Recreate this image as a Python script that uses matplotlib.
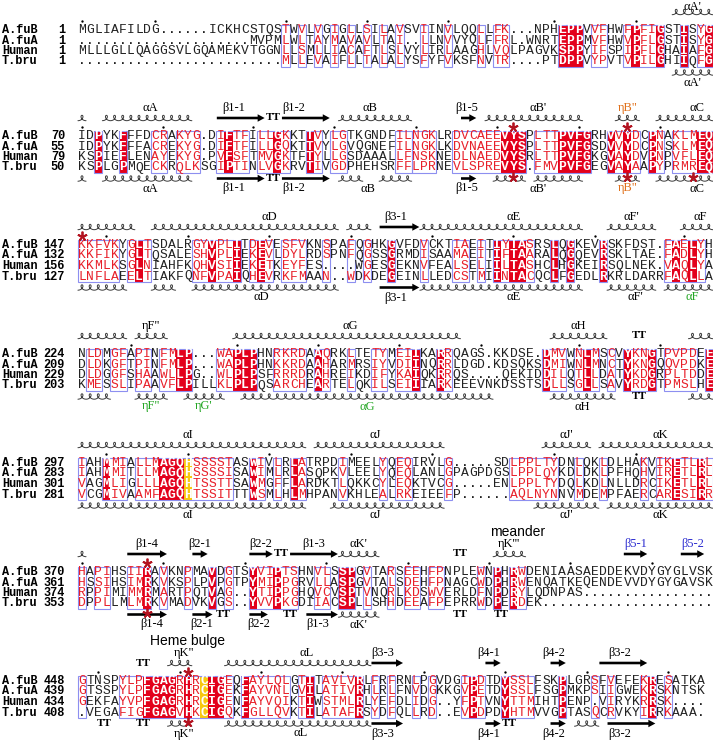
import numpy as np
import matplotlib.pyplot as plt
from matplotlib.patches import Rectangle, FancyArrow

# ---- alignment data -------------------------------------------------------
names = ["A.fuB", "A.fuA", "Human", "T.bru"]

start_numbers = [
    [1, 1, 1, 1],
    [70, 55, 79, 50],
    [147, 132, 156, 127],
    [224, 209, 229, 203],
    [297, 283, 301, 281],
    [370, 361, 374, 353],
    [448, 439, 434, 408],
]

afub = [
    "MGLIAFILDG......ICKHCSTQSTWVLVGIGLLSILAVSVIINVLQQLLFK...NPHEPPVVFHWFPFIGSTISYG",
    "IDPYKFFFDCRAKYG.DIFTFILLGKKTTVYLGTKGNDFILNGKLRDVCAEEVYSPLTTPVFGRHVVYDCPNAKLMEQ",
    "KKFVKYGLTSDALRGYVPLITDEVESFVKNSPAFQGHKGVFDVCKTIAEITIYTASRSLQGKEVRSKFDST.FAELYH",
    "NLDMGFAPINFMLP...WAPLPHNRKRDAAQRKLTETYMEIIKARRQAGS.KKDSE.DMVWNLMSCVYKNGTPVPDEE",
    "IAHMMIALLMAGQHSSSSTASWIVLRLATRPDIMEELYQEQIRVLG.....SDLPPLTYDNLQKLDLHAKVIKETLRL",
    "HAPIHSIIRAVKNPMAVDGTSYVIPTSHNVLSSPGVTARSEEHFPNPLEWNPHRWDENIAASAEDDEKVDYGYGLVSK",
    "GTNSPYLPFGAGRHRCIGEQFAYLQLGTITAVLVRLFRFRNLPGVDGIPDTDYSSLFSKPLGRSFVEFEKRESATKA",
]
afua = [
    ".....................MVPMLWLTAYMAVAVLTAI..LLNVVYQLFFRL.WNRTEPPMVFHWVPFLGSTISYG",
    "IDPYKFFFACREKYG.DIFTFILLGQKTTVYLGVQGNEFILNGKLKDVNAEEVYSPLTTPVFGSDVVYDCPNSKLMEQ",
    "KKFIKYGLTQSALESHVPLIEKEVLDYLRDSPNFQGSSGRMDISAAMAEITIFTAARALQGQEVRSKLTAE.FADLYH",
    "DLDKGFTPINFMLP...WAPLPHNKKRDAAHARMRSIYVDIINQRRLDGD.KDSQKSDMIWNLMNCTYKNGQQVPDKE",
    "IAHMMITLLMAGQHSSSSISAWIMLRLASQPKVLEELYQEQLANLGPAGPDGSLPPLQYKDLDKLPFHQHVIRETLRL",
    "HSSIHSIMRKVKSPLPVPGTPYMIPPGRVLLASPGVTALSDEHFPNAGCWDPHRWENQATKEQENDEVVDYGYGAVSK",
    "GTSSPYLPFGAGRHRCIGEKFAYVNLGVILATIVRHLRLFNVDGKKGVPETDYSSLFSGPMKPSIIGWEKRSKNTSK",
]
human = [
    "MLLLGLLQAGGSVLGQAMEKVTGGNLLSMLLIACAFTLSLVYLIRLAAGHLVQLPAGVKSPPYIFSPIPFLGHAIAFG",
    "KSPIEFLENAYEKYG.PVFSFTMVGKTFTYLLGSDAAALLFNSKNEDLNAEDVYSRLTTPVFGKGVAYDVPNPVFLEQ",
    "KKMLKSGLNIAHFKQHVSIIEKETKEYFES....WGESGEKNVFEALSELIILTASHCLHGKEIRSQLNEK.VAQLYA",
    "DLDGGFSHAAWLLPG..WLPLPSFRRRDRAHREIKDIFYKAIQKRRQS....QEKIDDILQTLLDATYKDGRPLTDDE",
    "VAGMLIGLLLAGQHTSSTTSAWMGFFLARDKTLQKKCYLEQKTVCG.....ENLPPLTYDQLKDLNLLDRCIKETLRL",
    "RPPIMIMMRMARTPQTVAG..YTIPPGHQVCVSPTVNQRLKDSWVERLDFNPDRYLQDNPAS................",
    "GEKFAYVPFGAGRHRCIGENFAYVQIKTIWSTMLRLYEFDLIDG..YFPTVNYTTMIHTPENP.VIRYKRRSK....",
]
tbru = [
    ".........................MLLEVAIFLLTALALYSFYFVKSFNVTR....PTDPPVYPVTVPILGHIIQFG",
    "KSPLGPMQECKRQLKSGIPTINLVGKRVTIVGDPHEHSRFFLPRNEVLSPREVYS.FMVPVFGEGVAYAAPYPRMREQ",
    "LNFLAEELTIAKFQNFVPAIQHEVRKFMAAN..WDKDEGEINLLEDCSTMIINTACQCLFGEDLRKRLDARRFAQLLA",
    "KMESSLIPAAVFLPILLKLPLPQSARCHEARTELQKILSEIIIARKEEEVNKDSSTSDLLSGLLSAVYRDGTPMSLHE",
    "VCGMIVAAMFAGQHTSSITTTWSMLHLMHPANVKHLEALRKEIEEFP......AQLNYNNVMDEMPFAERCARESIRR",
    "DPPLLMLMRKVMADVKVGS..YVVPKGDIIACSPLLSHHDEEAFPEPRRWDPERDEK.....................",
    ".VEGAFIGFGAGVHKCIGQKFGLLQVKTILATAFRSYDFQLLRD..EVPDPDYHTMVVGPTASQCRVKYIRRKAAA.",
]

# column shading: R = identical (red box), r = similar (red letters, framed),
# Y = highlighted (yellow box), - = plain; a space splits neighbouring frames
conservation = [
    "-------------------------" "r-r-r-r-r-r-r-r--r--r---r-rr" "------RRR-rr--rRrrR--R-rR",
    "--R--R---rr-rrr--rRrr-rrRr--Rr-rr------rr rrr--rrrrrrRRR-rrrRRRR--RrRr-Rr-rrrRR",
    "rrrrr-rRr-----rrRrrR-rRr-rrr--r--r-r--R---r---rr-r-RrRRr--R-R---R-------rRrRr-",
    "-rr-rr-rr-rrRR---rrRRR--rrrr-Rr--r--rr-rrR--Rr-----------Rrr-rRr-r-RrrR-rrrr-R",
    "r--Rrr-rrrRRRYrrrrr--Rr-r-Rr----r----r-rr----r-------rrrrrr--r--r----r-rrRrrRr",
    "r-rr--rrR-r--r--R-r--RrrRrr--rr-RR-r--r-rr-rr----r-R-Rr-----------------------",
    "r----rrrRRRRrRrYRRr-Rrrrrr-rR-rrrrR-r-r--r-r---rRr--Rrrr---R---r-r---rR-r----",
]

# secondary structure: ('h', a, b) helix, ('e', a, b) strand, ('t', c) turn,
# ('l', text, c, colour) label, ('s', c) star
top_ss = [
    [("h", 74, 78), ("l", "αA'", 76, "k")],
    [("h", 1, 1), ("h", 4, 14), ("l", "αA", 9.4, "k"), ("e", 18, 23), ("t", 24.5),
     ("e", 26, 31), ("l", "β1-1", 19.6, "k"), ("l", "β1-2", 27, "k"), ("h", 33, 41),
     ("l", "αB", 36.4, "k"), ("e", 48, 49), ("l", "β1-5", 48.3, "k"), ("h", 51, 62),
     ("l", "αB'", 57, "k"), ("s", 54), ("h", 67, 69), ("l", 'ηB"', 68, "o"), ("s", 68),
     ("h", 72, 78), ("l", "αC", 76.5, "k")],
    [("h", 1, 7), ("s", 1), ("h", 10, 32), ("l", "αD", 24, "k"), ("h", 34, 36),
     ("e", 38, 42), ("l", "β3-1", 39.5, "k"), ("h", 43, 62), ("l", "αE", 54, "k"),
     ("h", 66, 71), ("l", "αF'", 68.5, "k"), ("h", 75, 78), ("l", "αF", 77, "k")],
    [("h", 1, 6), ("h", 8, 11), ("l", 'ηF"', 9.5, "k"), ("h", 20, 47), ("l", "αG", 34, "k"),
     ("h", 59, 65), ("l", "αH", 62, "k"), ("t", 69.5), ("h", 76, 78)],
    [("h", 1, 28), ("l", "αI", 14, "k"), ("h", 30, 45), ("l", "αJ", 37, "k"),
     ("h", 58, 63), ("l", "αJ'", 60.5, "k"), ("h", 65, 78), ("l", "αK", 72, "k")],
    [("h", 1, 1), ("e", 7, 11), ("l", "β1-4", 9, "k"), ("s", 9), ("e", 15, 16),
     ("l", "β2-1", 15.5, "k"), ("e", 22, 24), ("l", "β2-2", 23, "k"), ("t", 25.5),
     ("e", 27, 32), ("l", "β1-3", 29.5, "k"), ("h", 33, 37), ("l", "αK'", 35, "k"),
     ("t", 47.5), ("h", 52, 55), ("l", "ηK'''", 53.5, "k"), ("e", 68, 70),
     ("l", "β5-1", 69, "b"), ("e", 75, 77), ("l", "β5-2", 76, "b")],
    [("t", 8.5), ("h", 12, 14), ("l", 'ηK"', 13.5, "k"), ("s", 14), ("h", 19, 36),
     ("l", "αL", 28.6, "k"), ("e", 37, 40), ("l", "β3-3", 38, "k"), ("e", 51, 52),
     ("l", "β4-1", 51, "k"), ("e", 59, 60), ("l", "β4-2", 59, "k"), ("e", 65, 70),
     ("l", "β3-2", 67, "k")],
]

bottom_ss = [
    [("h", 74, 78), ("l", "αA'", 76, "k")],
    [("h", 1, 1), ("h", 4, 14), ("l", "αA", 9.4, "k"), ("e", 18, 23), ("t", 24.5),
     ("e", 26, 31), ("l", "β1-1", 19.6, "k"), ("l", "β1-2", 27, "k"), ("h", 33, 35),
     ("h", 38, 41), ("l", "αB", 36.1, "k"), ("e", 48, 49), ("l", "β1-5", 48.3, "k"),
     ("h", 52, 55), ("h", 57, 62), ("l", "αB'", 57, "k"), ("s", 54), ("h", 67, 69),
     ("l", 'ηB"', 68, "o"), ("s", 68), ("h", 72, 78), ("s", 76), ("l", "αC", 76.5, "k")],
    [("h", 1, 6), ("h", 10, 12), ("h", 15, 32), ("l", "αD", 23, "k"), ("e", 38, 42),
     ("l", "β3-1", 39.5, "k"), ("h", 43, 62), ("l", "αE", 54, "k"), ("h", 66, 71),
     ("l", "αF'", 69, "k"), ("h", 73, 78), ("l", "αF", 76, "g")],
    [("h", 1, 4), ("h", 8, 11), ("l", 'ηF"', 9.5, "g"), ("h", 14, 18), ("l", "ηG'", 16, "g"),
     ("h", 21, 51), ("l", "αG", 36, "g"), ("h", 59, 66), ("l", "αH", 62.5, "k"),
     ("t", 69.5), ("h", 76, 78)],
    [("h", 1, 28), ("l", "αI", 14, "k"), ("h", 32, 45), ("l", "αJ", 37, "k"),
     ("h", 57, 64), ("l", "αJ'", 60.5, "k"), ("h", 66, 78), ("l", "αK", 72, "k")],
    [("e", 7, 11), ("s", 9), ("l", "β1-4", 9.5, "k"), ("e", 15, 16.6), ("t", 18.3),
     ("l", "β2-1", 15.7, "k"), ("e", 22, 23.4), ("l", "β2-2", 22.7, "k"), ("t", 26.6),
     ("e", 29, 32), ("l", "β1-3", 30, "k"), ("h", 33, 37), ("l", "αK'", 35, "k"),
     ("t", 47.5), ("t", 52.5)],
    [("t", 3.7), ("t", 8.5), ("h", 12, 14), ("s", 14), ("l", 'ηK"', 13.5, "k"),
     ("h", 19, 36), ("l", "αL", 27.8, "k"), ("e", 37, 40), ("l", "β3-3", 38, "k"),
     ("e", 51, 52), ("t", 53.5), ("l", "β4-1", 51, "k"), ("e", 59, 60),
     ("l", "β4-2", 59, "k"), ("h", 62, 64), ("e", 66, 71), ("l", "β3-2", 67, "k")],
]

extra_labels = [(5, "meander", 54.5), (6, "Heme bulge", 14)]

# ---- layout ---------------------------------------------------------------
X0 = 82.0       # centre of first column
CW = 8.14       # column width
RS = 10.5       # row spacing
block_y = [30, 136, 245, 354, 463, 572, 681]

RED = "#e3001b"
RED_TXT = "#e8202a"
FRAME = "#8d8ff0"
YELLOW = "#f7c90f"
STAR = "#b3121f"
label_colors = {"k": "black", "o": "#e0701a", "g": "#23a623", "b": "#2b2bd0"}

SEQ_FONT = "Liberation Mono"
LAB_FONT = "Liberation Serif"


def colx(c):
    return X0 + (c - 1) * CW


def draw_helix(ax, a, b, yc):
    n = int(round(b - a + 1))
    xs = colx(a) - CW / 2
    t = np.linspace(0, 2 * np.pi * n, 80 * n)
    x = xs + CW * t / (2 * np.pi) + 0.33 * CW * np.sin(t)
    y = yc + 2.7 * np.cos(t)
    ax.plot(x, y, color="#3a3a3a", lw=0.7, solid_capstyle="round")


def draw_strand(ax, a, b, yc):
    xs = colx(a) - CW / 2 + 0.5
    xe = colx(b) + CW / 2 - 0.5
    ax.add_patch(FancyArrow(xs, yc, xe - xs, 0, width=2.6, head_width=7.5,
                            head_length=7, length_includes_head=True,
                            color="black", lw=0))


def draw_ss(ax, items, y_ss, y_lab, y_star):
    y_lab = max(y_lab, 6.5)   # keep the first block's label inside the picture
    for it in items:
        kind = it[0]
        if kind == "h":
            draw_helix(ax, it[1], it[2], y_ss)
        elif kind == "e":
            draw_strand(ax, it[1], it[2], y_ss)
        elif kind == "t":
            ax.text(colx(it[1]), y_ss, "TT", fontfamily=LAB_FONT, fontweight="bold",
                    fontsize=8, ha="center", va="center")
        elif kind == "l":
            ax.text(colx(it[2]), y_lab, it[1], fontfamily=LAB_FONT, fontsize=9,
                    ha="center", va="center", color=label_colors[it[3]])
    for it in items:
        if it[0] == "s":
            ax.plot(colx(it[1]), y_star, marker=(5, 2, 0), ms=7, mew=1.3,
                    color=STAR, zorder=5)


def parse_style(s):
    codes, groups = [], []
    gid = 0
    for ch in s:
        if ch == " ":
            gid += 1
            continue
        codes.append(ch)
        groups.append(gid)
    return codes, groups


fig = plt.figure(figsize=(7.13, 7.42), dpi=100)
ax = fig.add_axes([0, 0, 1, 1])
ax.set_xlim(0, 713)
ax.set_ylim(742, 0)
ax.axis("off")

for b in range(7):
    y0 = block_y[b]
    seqs = [afub[b], afua[b], human[b], tbru[b]]
    ncol = len(seqs[0])
    codes, groups = parse_style(conservation[b])
    codes = (codes + ["-"] * ncol)[:ncol]
    groups = (groups + [-1] * ncol)[:ncol]

    top = y0 - RS * 0.5
    height = RS * 4

    # filled boxes
    for c in range(ncol):
        if codes[c] in "RY":
            ax.add_patch(Rectangle((colx(c + 1) - CW / 2, top), CW, height,
                                   facecolor=RED if codes[c] == "R" else YELLOW,
                                   edgecolor="none", zorder=1))
    # blue frames around runs of conserved columns
    c = 0
    while c < ncol:
        if codes[c] in "RrY":
            s = c
            while c + 1 < ncol and codes[c + 1] in "RrY" and groups[c + 1] == groups[s]:
                c += 1
            ax.add_patch(Rectangle((colx(s + 1) - CW / 2, top), (c - s + 1) * CW, height,
                                   fill=False, edgecolor=FRAME, lw=0.8, zorder=2))
        c += 1

    # residues
    for r in range(4):
        y = y0 + r * RS
        ax.text(2, y, names[r], fontfamily=SEQ_FONT, fontweight="bold", fontsize=8.6,
                va="center", ha="left")
        ax.text(65, y, str(start_numbers[b][r]), fontfamily=SEQ_FONT, fontweight="bold",
                fontsize=8.6, va="center", ha="right")
        for c, ch in enumerate(seqs[r]):
            code = codes[c]
            if ch == ".":
                color, weight = "black", "normal"
            elif code in "RY":
                color, weight = "white", "bold"
            elif code == "r":
                color, weight = RED_TXT, "normal"
            else:
                color, weight = "#222222", "normal"
            ax.text(colx(c + 1), y, ch, fontfamily=SEQ_FONT, fontsize=9.4,
                    fontweight=weight, color=color, ha="center", va="center", zorder=3)

    # tick dots every ten residues of the first sequence
    res = start_numbers[b][0]
    dots = []
    for c, ch in enumerate(afub[b]):
        if ch != ".":
            if res % 10 == 0 or res == 1:
                dots.append(colx(c + 1))
            res += 1
    ax.plot(dots, [y0 - 9] * len(dots), "o", ms=1.7, color="black", mew=0)

    draw_ss(ax, top_ss[b], y0 - 18, y0 - 28, y0 - 9)
    draw_ss(ax, bottom_ss[b], y0 + 3 * RS + 11, y0 + 3 * RS + 21, y0 + 3 * RS + 9)

for b, text, c in extra_labels:
    ax.text(colx(c), block_y[b] - 40, text, fontfamily="Liberation Sans", fontsize=10,
            ha="center", va="center")

fig.savefig("out.png", dpi=100)
